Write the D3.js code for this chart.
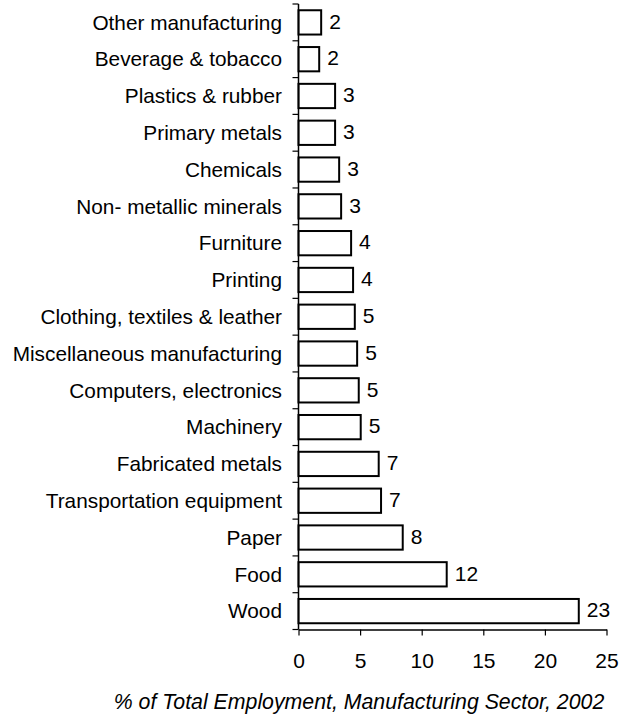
<!DOCTYPE html>
<html lang="en">
<head>
    <meta charset="UTF-8">
    <title>% of Total Employment, Manufacturing Sector, 2002</title>
    <script src="https://d3js.org/d3.v7.min.js"></script>
    <style>
        body { margin: 0; background: #fff; }
        svg { display: block; font-family: Arial, "Liberation Sans", sans-serif; }
    </style>
</head>
<body>
    <script>
        // categories top -> bottom (% of employment)
        let categories = [
            "Other manufacturing", "Beverage & tobacco", "Plastics & rubber", "Primary metals",
            "Chemicals", "Non- metallic minerals", "Furniture", "Printing",
            "Clothing, textiles & leather", "Miscellaneous manufacturing", "Computers, electronics",
            "Machinery", "Fabricated metals", "Transportation equipment", "Paper", "Food", "Wood"
        ];
        let shares = [1.84, 1.68, 2.97, 2.97, 3.30, 3.46, 4.27, 4.43, 4.57, 4.76, 4.89, 5.05, 6.51, 6.70, 8.46, 12.03, 22.75];
        let xTicks = [0, 5, 10, 15, 20, 25];
        let title = "% of Total Employment, Manufacturing Sector, 2002";

        let width = 627, height = 714;
        let plot = { left: 298.5, right: 606.5, top: 4, bottom: 629.5 };

        let svg = d3.select("body").append("svg")
                    .attr("width", width)
                    .attr("height", height);

        let x = d3.scaleLinear().domain([0, 25]).range([plot.left, plot.right]);
        let y = d3.scaleBand()
                  .domain(categories)
                  .range([plot.top, plot.bottom])
                  .paddingInner(0.34)
                  .paddingOuter(0.17);

        /* bars */
        svg.selectAll("rect.bar")
           .data(shares)
           .enter()
           .append("rect")
           .attr("class", "bar")
           .attr("x", x(0))
           .attr("y", (d, i) => y(categories[i]))
           .attr("width", d => x(d) - x(0))
           .attr("height", y.bandwidth())
           .attr("fill", "#fff")
           .attr("stroke", "#000")
           .attr("stroke-width", 2);

        /* value labels */
        svg.selectAll("text.val")
           .data(shares)
           .enter()
           .append("text")
           .attr("class", "val")
           .attr("x", d => x(d) + 8)
           .attr("y", (d, i) => y(categories[i]) + y.bandwidth() / 2)
           .attr("dy", "0.3em")
           .attr("font-size", 21)
           .attr("fill", "#000")
           .text(d => Math.round(d));

        /* y axis: line, ticks between categories, labels */
        let yAxis = svg.append("g").attr("class", "y-axis");
        yAxis.append("line")
             .attr("x1", plot.left).attr("x2", plot.left)
             .attr("y1", plot.top).attr("y2", plot.bottom)
             .attr("stroke", "#000").attr("stroke-width", 1.5);
        let bounds = categories.map(c => y(c) - y.step() * y.paddingOuter());
        bounds.push(plot.bottom);
        yAxis.selectAll("line.tick")
             .data(bounds)
             .enter()
             .append("line")
             .attr("class", "tick")
             .attr("x1", plot.left - 6).attr("x2", plot.left)
             .attr("y1", d => d).attr("y2", d => d)
             .attr("stroke", "#000").attr("stroke-width", 1.2);
        yAxis.selectAll("text")
             .data(categories)
             .enter()
             .append("text")
             .attr("x", plot.left - 16.5)
             .attr("y", d => y(d) + y.bandwidth() / 2)
             .attr("dy", "0.35em")
             .attr("text-anchor", "end")
             .attr("font-size", 20.8)
             .attr("fill", "#000")
             .text(d => d);

        /* x axis */
        let xAxis = d3.axisBottom(x)
                      .tickValues(xTicks)
                      .tickSize(6)
                      .tickSizeOuter(0)
                      .tickPadding(18);
        let gx = svg.append("g")
                    .attr("transform", `translate(0, ${plot.bottom})`)
                    .call(xAxis);
        gx.select(".domain").attr("stroke", "#000").attr("stroke-width", 1.5);
        gx.selectAll(".tick line").attr("stroke", "#000").attr("stroke-width", 1.2);
        gx.selectAll(".tick text")
          .attr("font-size", 21)
          .attr("font-family", "Arial, 'Liberation Sans', sans-serif")
          .attr("fill", "#000");

        /* axis title */
        svg.append("text")
           .attr("x", (113 + 605) / 2)
           .attr("y", 709)
           .attr("text-anchor", "middle")
           .attr("font-size", 21.3)
           .attr("font-style", "italic")
           .attr("fill", "#000")
           .text(title);
    </script>
</body>
</html>
